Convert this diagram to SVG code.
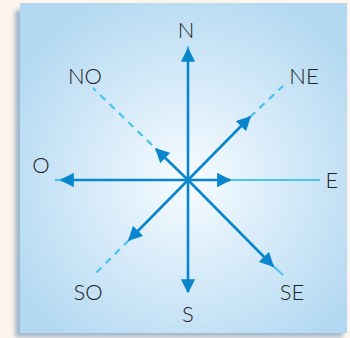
<svg xmlns="http://www.w3.org/2000/svg" width="350" height="338" viewBox="0 0 350 338">
<style>
.dark{stroke:#0a86cc;stroke-width:2.6;fill:none;stroke-linecap:butt}
.light{stroke:#4bc3ef;stroke-width:2.2;fill:none}
.dash{stroke:#4bc3ef;stroke-width:2.2;fill:none;stroke-dasharray:7 6}
.lbl{font-family:Lato,"Open Sans","Liberation Sans",sans-serif;font-size:22px;font-weight:300;fill:#222}
</style>
<defs>
<radialGradient id="bg" cx="188" cy="180" r="200" gradientUnits="userSpaceOnUse">
<stop offset="0" stop-color="#f6fbff"/>
<stop offset="0.2" stop-color="#eaf5fd"/>
<stop offset="1" stop-color="#b3d9f2"/>
</radialGradient>
<filter id="sh" x="-10%" y="-10%" width="120%" height="120%"><feGaussianBlur stdDeviation="2"/></filter>
<marker id="ah" viewBox="0 0 10 10" refX="9" refY="5" markerWidth="5.5" markerHeight="5.5" orient="auto" markerUnits="strokeWidth">
<path d="M0,0 L10,5 L0,10 z" fill="#0a86cc"/>
</marker>
</defs>
<rect width="350" height="338" fill="#fdf5ec"/>
<rect x="15" y="10" width="328" height="327" fill="#7b9cc0" filter="url(#sh)" opacity="0.7"/>
<rect x="20" y="3" width="327" height="330" fill="url(#bg)"/>
<g id="connectors">
<line class="light" x1="55" y1="180" x2="66" y2="180"/>
<line class="light" x1="225" y1="180" x2="320" y2="180"/>
<line class="dash" x1="250" y1="117" x2="283" y2="86"/>
<line class="dash" x1="152" y1="145" x2="93" y2="88"/>
<line class="dash" x1="129" y1="240" x2="95" y2="274"/>
<line class="light" x1="272" y1="265" x2="283" y2="275"/>
<line class="light" x1="188" y1="52" x2="188" y2="46"/>
<line class="dark" x1="188" y1="180" x2="188" y2="49" marker-end="url(#ah)"/>
<line class="dark" x1="188" y1="180" x2="188" y2="292" marker-end="url(#ah)"/>
<line class="dark" x1="188" y1="180" x2="61" y2="180" marker-end="url(#ah)"/>
<line class="dark" x1="188" y1="180" x2="230" y2="180" marker-end="url(#ah)"/>
<line class="dark" x1="188" y1="180" x2="250" y2="117" marker-end="url(#ah)"/>
<line class="dark" x1="188" y1="180" x2="156" y2="149" marker-end="url(#ah)"/>
<line class="dark" x1="188" y1="180" x2="129" y2="240" marker-end="url(#ah)"/>
<line class="dark" x1="188" y1="180" x2="273" y2="266" marker-end="url(#ah)"/>
</g>
<g id="N"><text class="lbl" x="186" y="38" text-anchor="middle">N</text></g>
<g id="NO"><text class="lbl" x="85" y="84" text-anchor="middle">NO</text></g>
<g id="NE"><text class="lbl" x="304" y="84" text-anchor="middle">NE</text></g>
<g id="O"><text class="lbl" x="41" y="173" text-anchor="middle">O</text></g>
<g id="E"><text class="lbl" x="332" y="188" text-anchor="middle">E</text></g>
<g id="SO"><text class="lbl" x="88" y="300" text-anchor="middle">SO</text></g>
<g id="S"><text class="lbl" x="188" y="322" text-anchor="middle">S</text></g>
<g id="SE"><text class="lbl" x="292" y="300" text-anchor="middle">SE</text></g>
</svg>
